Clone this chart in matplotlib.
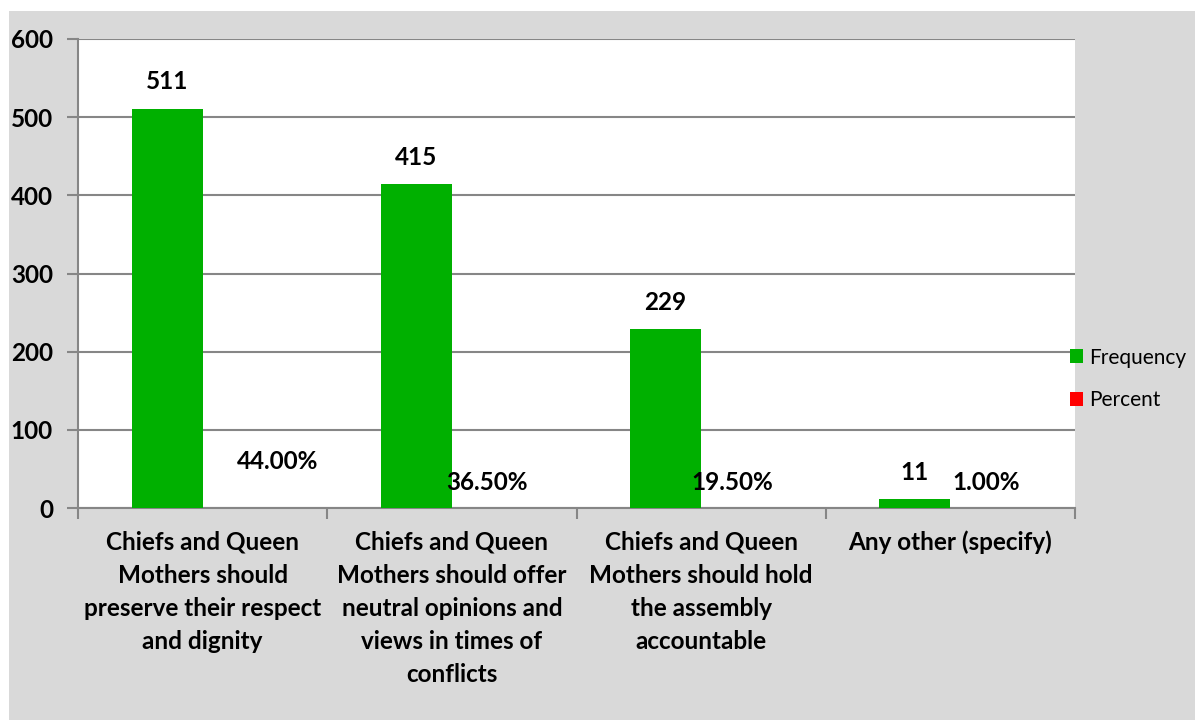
import numpy as np
import matplotlib.pyplot as plt
from matplotlib.patches import Rectangle

categories = [
    "Chiefs and Queen\nMothers should\npreserve their respect\nand dignity",
    "Chiefs and Queen\nMothers should offer\nneutral opinions and\nviews in times of\nconflicts",
    "Chiefs and Queen\nMothers should hold\nthe assembly\naccountable",
    "Any other (specify)",
]
frequency = [511, 415, 229, 11]
percent = [0.44, 0.365, 0.195, 0.01]
percent_labels = ["44.00%", "36.50%", "19.50%", "1.00%"]
# hand-placed percent label spots (x shift from red bar, y in data units)
pct_dx = [0.16, 0.0, -0.016, 0.0]
pct_y = [60, 33, 33, 33]

plt.rcParams['font.family'] = ['Lato', 'DejaVu Sans']

W, H = 1195, 720
fig = plt.figure(figsize=(W / 100, H / 100), dpi=100)
fig.patch.set_facecolor("white")
fig.patches.append(Rectangle((9 / W, 0), 1, 1 - 11 / H, transform=fig.transFigure,
                             facecolor="#d9d9d9", edgecolor="none", zorder=-1))

ax = fig.add_axes([78 / W, 1 - 508 / H, (1075 - 78) / W, (508 - 39) / H])
ax.set_facecolor("white")

x = np.arange(len(categories))
bw = 0.285
green = "#00b000"
red = "#ff0000"
ax.bar(x - bw / 2, frequency, bw, color=green, label="Frequency", zorder=3)
ax.bar(x + bw / 2, percent, bw, color=red, label="Percent", zorder=3)

fs = 17.5
for i in range(len(x)):
    ax.text(x[i] - bw / 2, frequency[i] + 34, str(frequency[i]), ha="center", va="center",
            fontsize=fs, fontweight="bold")
    ax.text(x[i] + bw / 2 + pct_dx[i], pct_y[i], percent_labels[i], ha="center", va="center",
            fontsize=fs, fontweight="bold", zorder=4)

ax.set_xlim(-0.5, len(x) - 0.5)
ax.set_ylim(0, 600)
ax.set_yticks(np.arange(0, 601, 100))
ax.yaxis.grid(True, color="#868686", linewidth=1.5)
ax.set_axisbelow(True)
for s in ["top", "right"]:
    ax.spines[s].set_visible(False)
for s in ["left", "bottom"]:
    ax.spines[s].set_color("#868686")
    ax.spines[s].set_linewidth(1.5)

ax.set_xticks(np.arange(-0.5, len(x), 1.0))
ax.set_xticklabels([])
ax.tick_params(axis="x", length=8, color="#868686", width=1.5)
ax.tick_params(axis="y", length=8, color="#868686", width=1.5, pad=10)
for lab in ax.get_yticklabels():
    lab.set_fontsize(17.5)
    lab.set_fontweight("bold")

for i, c in enumerate(categories):
    ax.text(x[i], -29, c, ha="center", va="top", fontsize=fs, fontweight="bold",
            linespacing=1.53, transform=ax.transData)

leg = ax.legend(loc="center left", bbox_to_anchor=(0.995, 0.275), frameon=False,
                fontsize=15, handlelength=0.62, handleheight=0.62, handletextpad=0.3,
                labelspacing=1.1, borderpad=0, borderaxespad=0)

fig.savefig("out.png", dpi=100)
